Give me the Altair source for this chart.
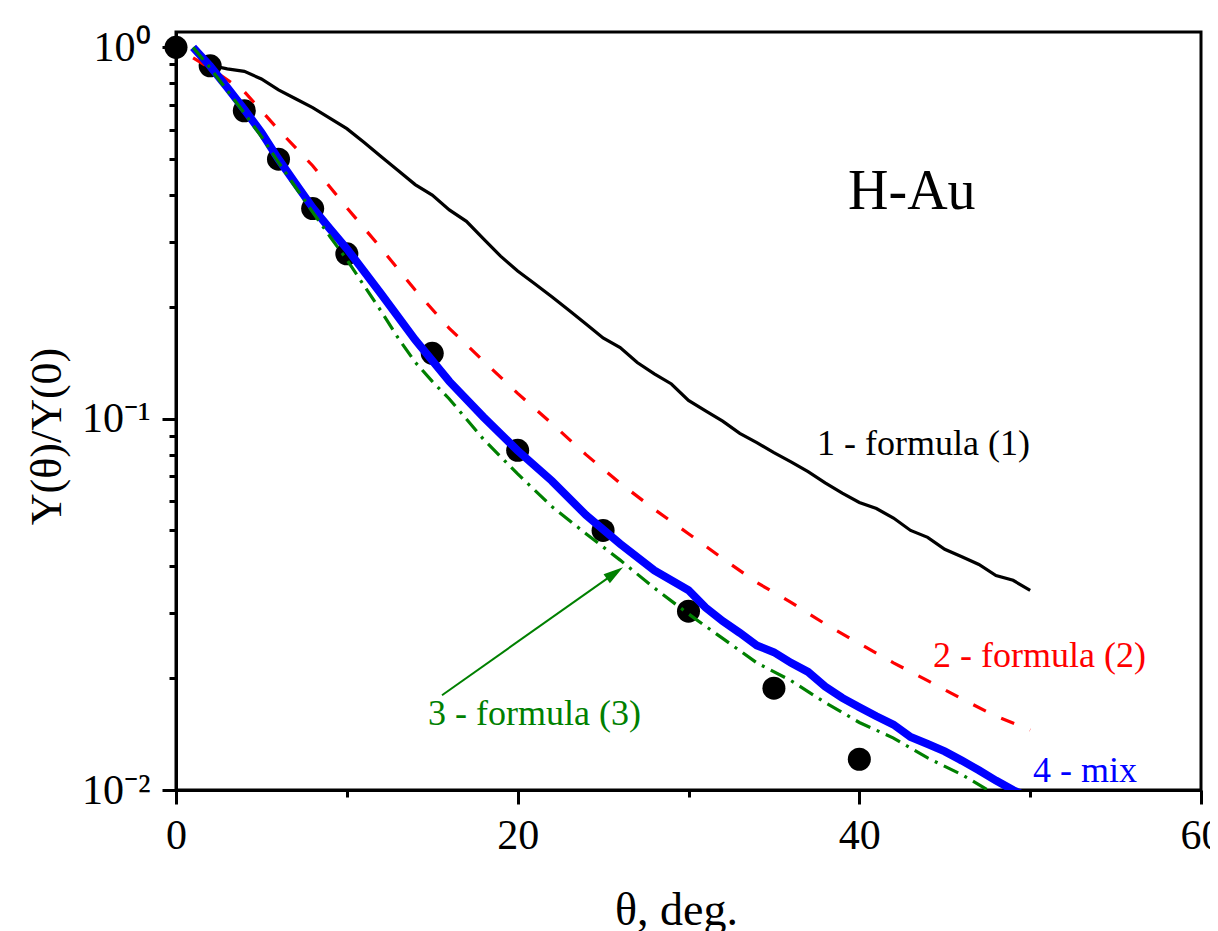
import altair as alt
import pandas as pd

# experimental points
exp_theta = [0, 2, 4, 6, 8, 10, 15, 20, 25, 30, 35, 40]
exp_y = [1.0, 0.892, 0.675, 0.50, 0.368, 0.278, 0.150, 0.0822, 0.050, 0.0303, 0.0188, 0.0121]

# 1 - formula (1)
f1_theta = list(range(2, 51))
f1_y = [0.895, 0.875, 0.862, 0.822, 0.768, 0.727, 0.688, 0.645, 0.604, 0.555,
        0.508, 0.466, 0.427, 0.400, 0.365, 0.340, 0.305, 0.274, 0.250, 0.231,
        0.213, 0.196, 0.180, 0.165, 0.1555, 0.1417, 0.132, 0.124, 0.112, 0.105,
        0.0985, 0.0913, 0.0862, 0.081, 0.0765, 0.072, 0.0672, 0.063, 0.0595, 0.0573,
        0.054, 0.050, 0.0479, 0.0445, 0.0425, 0.0405, 0.0378, 0.0367, 0.0345]

# 2 - formula (2)
f2_theta = [1, 2, 4, 6, 8, 10, 12, 14, 16, 18, 20, 22, 24, 26, 28, 30, 32, 34, 36, 38, 40, 42, 44, 46, 48, 50]
f2_y = [0.937, 0.88, 0.76, 0.60, 0.48, 0.37, 0.288, 0.222, 0.175, 0.143, 0.117, 0.097, 0.080,
        0.067, 0.057, 0.049, 0.042, 0.0362, 0.032, 0.028, 0.0248, 0.022, 0.0197, 0.0176, 0.0158, 0.0145]

# 3 - formula (3)
f3_theta = [1, 2, 3, 4, 5, 6, 7, 8, 9, 10, 12, 13, 14, 15, 16, 18, 20, 22, 24, 26, 28, 30, 32, 34,
            36, 38, 40, 42, 44, 46, 48, 50]
f3_y = [1.0, 0.88, 0.765, 0.665, 0.575, 0.49, 0.42, 0.36, 0.31, 0.268, 0.195, 0.165, 0.142, 0.126,
        0.113, 0.088, 0.071, 0.058, 0.049, 0.0416, 0.035, 0.0298, 0.0256, 0.022, 0.0197, 0.0172,
        0.0152, 0.0138, 0.0122, 0.011, 0.0097, 0.0088]

# 4 - mix
mix_theta = [1, 2, 3, 4, 5, 6, 7, 8, 9, 10, 12, 14, 16, 18, 20, 22, 24, 26, 28, 30, 31, 32, 33, 34,
             35, 36, 37, 38, 39, 40, 41, 42, 43, 44, 45, 46, 47, 48, 49, 50]
mix_y = [1.0, 0.89, 0.78, 0.68, 0.59, 0.50, 0.43, 0.37, 0.325, 0.287, 0.217, 0.163, 0.126, 0.101,
         0.082, 0.068, 0.055, 0.046, 0.039, 0.0345, 0.031, 0.0285, 0.0265, 0.0245, 0.0235, 0.022,
         0.0208, 0.019, 0.0177, 0.0167, 0.0158, 0.015, 0.0139, 0.0133, 0.0127, 0.012, 0.0113,
         0.0106, 0.0100, 0.0095]

# annotations
label_text = ["1 - formula (1)", "2 - formula (2)", "3 - formula (3)", "4 - mix", "H-Au"]
label_theta = [37.52, 44.31, 14.75, 50.17, 39.34]
label_y = [0.0796, 0.02143, 0.01496, 0.01051, 0.368]
label_color = ["#000000", "#ff0000", "#008000", "#0000ff", "#000000"]
label_size = [36, 36, 36, 36, 56]

arrow_theta = [15.57, 25.69]
arrow_y = [0.0180, 0.03839]
arrow_angle = [54.7]

FONT = "Liberation Serif"

x_ticks = [0, 10, 20, 30, 40, 50, 60]
y_ticks = [1, 0.9, 0.8, 0.7, 0.6, 0.5, 0.4, 0.3, 0.2,
           0.1, 0.09, 0.08, 0.07, 0.06, 0.05, 0.04, 0.03, 0.02, 0.01]

x_axis = alt.Axis(
    values=x_ticks,
    labelExpr="datum.value % 20 == 0 ? datum.label : ''",
    tickSize={"condition": {"test": "datum.value % 20 == 0", "value": 14}, "value": 7},
    tickWidth=3, tickColor="black", domainWidth=3, domainColor="black",
    labelFont=FONT, labelFontSize=42, labelColor="black", labelPadding=11,
    labelFlush=False, labelOverlap=False, grid=False,
    title="θ, deg.", titleFont=FONT, titleFontSize=46, titleFontWeight="normal",
    titleColor="black", titleX=500, titleY=134, titleAlign="center",
    titleBaseline="alphabetic",
)

y_axis = alt.Axis(
    values=y_ticks,
    labelExpr="datum.value == 1 ? '10⁰' : (datum.value == 0.1 ? '10⁻¹' : (datum.value == 0.01 ? '10⁻²' : ''))",
    tickSize={"condition": {"test": "datum.value == 1 || datum.value == 0.1 || datum.value == 0.01", "value": 14}, "value": 7},
    tickWidth=3, tickColor="black", domainWidth=3, domainColor="black",
    labelFont=FONT, labelFontSize=42, labelColor="black", labelPadding=12,
    labelFlush=False, labelOverlap=False, grid=False,
    title="Y(θ)/Y(0)", titleFont=FONT, titleFontSize=44, titleFontWeight="normal",
    titleColor="black", titleX=-129, titleY=404, titleAngle=270, titleAlign="center",
    titleBaseline="middle",
)

xs = alt.Scale(domain=[0, 60], nice=False, zero=False)
ys = alt.Scale(type="log", domain=[0.01, 1.1], nice=False)


def enc(ch):
    return ch.encode(
        x=alt.X("t:Q", scale=xs, axis=x_axis),
        y=alt.Y("v:Q", scale=ys, axis=y_axis),
    )


pts = enc(alt.Chart(pd.DataFrame({"t": exp_theta, "v": exp_y})).mark_point(
    filled=True, size=530, color="black", opacity=1, shape="circle"))

l1 = enc(alt.Chart(pd.DataFrame({"t": f1_theta, "v": f1_y})).mark_line(
    color="black", strokeWidth=3.2, clip=True))
l2 = enc(alt.Chart(pd.DataFrame({"t": f2_theta, "v": f2_y})).mark_line(
    color="#ff0000", strokeWidth=3.2, strokeDash=[14, 17], clip=True))
l4 = enc(alt.Chart(pd.DataFrame({"t": mix_theta, "v": mix_y})).mark_line(
    color="#0000ff", strokeWidth=8, clip=True))
l3 = enc(alt.Chart(pd.DataFrame({"t": f3_theta, "v": f3_y})).mark_line(
    color="#008000", strokeWidth=3.2, strokeDash=[16, 7, 3, 7], clip=True))

labels_df = pd.DataFrame({"t": label_theta, "v": label_y, "txt": label_text,
                          "c": label_color, "s": label_size})
texts = alt.Chart(labels_df).mark_text(
    align="left", baseline="alphabetic", font=FONT).encode(
    x=alt.X("t:Q", scale=xs, axis=x_axis),
    y=alt.Y("v:Q", scale=ys, axis=y_axis),
    text="txt:N",
    color=alt.Color("c:N", scale=None),
    size=alt.Size("s:Q", scale=None),
)

arrow_line = enc(alt.Chart(pd.DataFrame({"t": arrow_theta, "v": arrow_y})).mark_line(
    color="#008000", strokeWidth=2))
arrow_head = alt.Chart(pd.DataFrame({"t": arrow_theta[1:], "v": arrow_y[1:], "a": arrow_angle})).mark_point(
    shape="M0,-1L0.55,1L-0.55,1Z", filled=True, size=400, color="#008000", opacity=1, strokeWidth=0).encode(
    x=alt.X("t:Q", scale=xs, axis=x_axis),
    y=alt.Y("v:Q", scale=ys, axis=y_axis),
    angle=alt.Angle("a:Q", scale=None),
)

chart = alt.layer(pts, l1, l2, l4, l3, texts, arrow_line, arrow_head).properties(
    width=1025, height=758,
    padding={"left": 168, "top": 24, "right": 9, "bottom": 141},
    autosize=alt.AutoSizeParams(type="none"),
    background="white",
).configure_view(stroke="black", strokeWidth=3)

chart.save("out.html", embed_options={"renderer": "svg", "actions": False})
